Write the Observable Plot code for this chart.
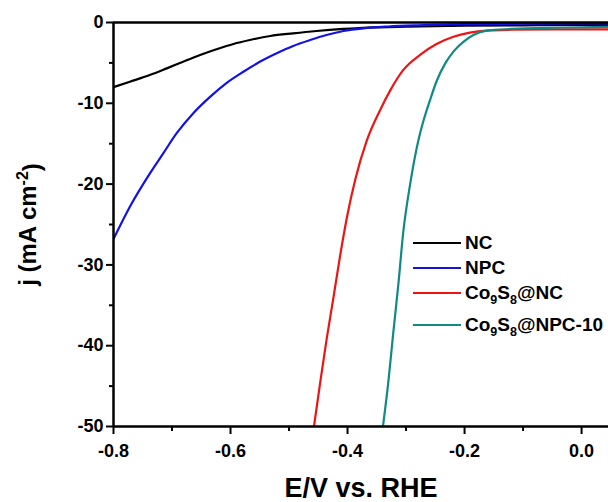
<!DOCTYPE html>
<html>
<head>
<meta charset="utf-8">
<script src="https://cdn.jsdelivr.net/npm/d3@7"></script>
<script src="https://cdn.jsdelivr.net/npm/@observablehq/plot@0.6"></script>
<style>
  html, body { margin: 0; padding: 0; background: #fff; }
  #wrap { position: relative; width: 608px; height: 502px; overflow: hidden; font-family: "Liberation Sans", Arial, sans-serif; font-weight: bold; }
  #legend { position: absolute; left: 0; top: 0; width: 608px; height: 502px; pointer-events: none; }
  .row { position: absolute; left: 413px; height: 22px; display: flex; align-items: center; white-space: nowrap; }
  .row .ln { width: 48px; height: 0; border-top: 2.5px solid #000; margin-right: 4px; }
  .row .tx { font-size: 19px; line-height: 22px; color: #000; }
  .row sub { font-size: 12.5px; line-height: 0; vertical-align: -0.4em; }
  svg g[aria-label="x-axis label"] text { font-size: 27px; }
  svg g[aria-label="y-axis label"] text { font-size: 24px; }
</style>
</head>
<body>
<div id="wrap"><div id="legend"></div></div>
<script>
// Series names (legend) and colours
const seriesNames = ["NC", "NPC", "Co<sub>9</sub>S<sub>8</sub>@NC", "Co<sub>9</sub>S<sub>8</sub>@NPC-10"];
const seriesColors = ["#000000", "#1212e8", "#ee1414", "#0f8a84"];

// NC (black)
const ncE = [-0.8, -0.772, -0.738, -0.709, -0.681, -0.652, -0.624, -0.595, -0.567, -0.532, -0.493, -0.453, -0.407, -0.35, -0.3, -0.2, -0.1, 0, 0.046];
const ncJ = [-8.0, -7.33, -6.5, -5.68, -4.86, -4.03, -3.32, -2.66, -2.17, -1.67, -1.34, -1.05, -0.8, -0.6, -0.5, -0.4, -0.35, -0.3, -0.3];

// NPC (blue)
const npcE = [-0.8, -0.772, -0.738, -0.715, -0.692, -0.664, -0.635, -0.607, -0.578, -0.550, -0.521, -0.493, -0.464, -0.436, -0.407, -0.373, -0.33, -0.28, -0.2, -0.1, 0, 0.046];
const npcJ = [-26.8, -22.8, -18.7, -16.2, -13.7, -11.25, -9.2, -7.5, -6.1, -4.86, -3.8, -2.9, -2.17, -1.55, -1.05, -0.72, -0.5, -0.35, -0.2, -0.15, -0.1, -0.1];

// Co9S8@NC (red)
const cncE = [-0.458, -0.447, -0.436, -0.424, -0.413, -0.401, -0.387, -0.367, -0.344, -0.327, -0.305, -0.276, -0.248, -0.219, -0.191, -0.162, -0.12, -0.05, 0, 0.046];
const cncJ = [-50.3, -44.7, -39.3, -34.0, -29.0, -24.1, -19.5, -14.6, -10.8, -8.4, -5.9, -4.0, -2.66, -1.76, -1.26, -1.0, -0.9, -0.85, -0.85, -0.85];

// Co9S8@NPC-10 (teal)
const cnpcE = [-0.34, -0.330, -0.322, -0.313, -0.305, -0.293, -0.279, -0.270, -0.259, -0.248, -0.233, -0.219, -0.202, -0.185, -0.162, -0.12, -0.05, 0, 0.046];
const cnpcJ = [-50.3, -44.3, -38.5, -32.3, -26.1, -20.0, -14.6, -12.1, -9.6, -7.3, -5.06, -3.6, -2.4, -1.55, -1.0, -0.8, -0.65, -0.6, -0.55];

// Axis ticks
const xMajor = [-0.8, -0.6, -0.4, -0.2, 0.0];
const xMinor = [-0.7, -0.5, -0.3, -0.1];
const yMajor = [-50, -40, -30, -20, -10, 0];
const yMinor = [-45, -35, -25, -15, -5];

const seriesE = [ncE, npcE, cncE, cnpcE];
const seriesJ = [ncJ, npcJ, cncJ, cnpcJ];
const table = seriesE.map((es, i) => es.map((e, k) => ({E: e, J: seriesJ[i][k], s: i})));

const chart = Plot.plot({
  width: 608,
  height: 502,
  marginLeft: 113,
  marginRight: 0,
  marginTop: 22,
  marginBottom: 76,
  x: {domain: [-0.8, 0.046]},
  y: {domain: [-50, 0]},
  style: {fontFamily: '"Liberation Sans", Arial, sans-serif', fontWeight: "bold", fontSize: "18px", color: "#000", background: "transparent", overflow: "visible"},
  marks: [
    ...table.map((d, i) => Plot.line(d, {x: "E", y: "J", stroke: seriesColors[i], strokeWidth: 2.2, curve: "monotone-x", clip: true})),
    Plot.ruleY([0, -50], {strokeWidth: 2.5}),
    Plot.ruleX([-0.8], {strokeWidth: 2.5}),
    Plot.axisX(xMajor, {tickSize: 8, tickPadding: 10, strokeWidth: 2, fontSize: 18, tickFormat: d => d.toFixed(1), label: "E/V vs. RHE", labelAnchor: "center", labelOffset: 70, labelArrow: "none"}),
    Plot.axisX(xMinor, {tickSize: 5, strokeWidth: 2, tickFormat: () => "", label: null}),
    Plot.axisY(yMajor, {tickSize: 7, tickPadding: 3, strokeWidth: 2, fontSize: 18, tickFormat: d => String(d), label: "j (mA cm-2)", labelAnchor: "center", labelOffset: 95, labelArrow: "none"}),
    Plot.axisY(yMinor, {tickSize: 4, strokeWidth: 2, tickFormat: () => "", label: null})
  ]
});
document.getElementById("wrap").prepend(chart);

// superscript in y label
const yl = d3.select(chart).select('g[aria-label="y-axis label"] text');
if (!yl.empty()) {
  yl.text(null);
  yl.append("tspan").text("j (mA cm");
  yl.append("tspan").attr("dy", "-0.5em").style("font-size", "16px").text("-2");
  yl.append("tspan").attr("dy", "0.5em").text(")");
}

// legend
const rowCenters = [243, 268, 292.5, 324.5];
const legend = document.getElementById("legend");
seriesNames.forEach((name, i) => {
  const row = document.createElement("div");
  row.className = "row";
  row.style.top = (rowCenters[i] - 11) + "px";
  row.innerHTML = `<div class="ln" style="border-top-color:${seriesColors[i]}"></div><div class="tx">${name}</div>`;
  legend.appendChild(row);
});
</script>
</body>
</html>
